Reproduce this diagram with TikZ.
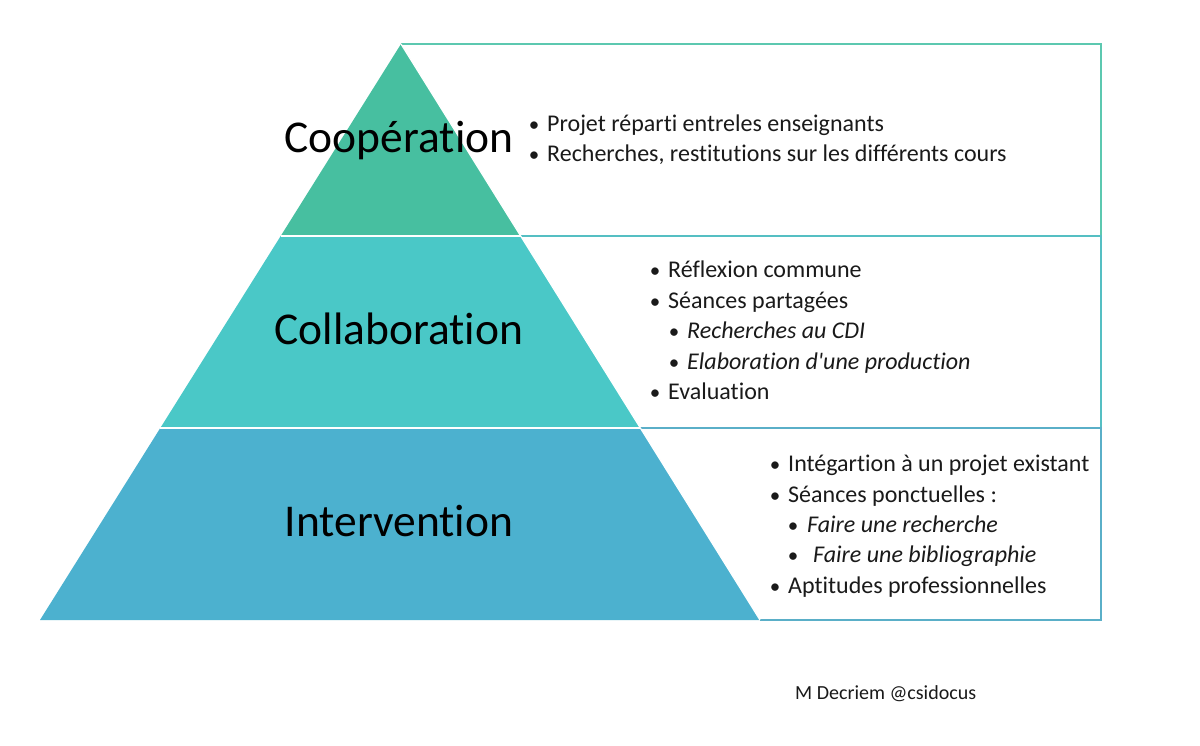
\documentclass[tikz,border=0pt]{standalone}
\usepackage{fontspec}
\setmainfont{Carlito}[Ligatures=NoCommon]
\newfontfamily\rawcarlito{Carlito}[Mapping=, Ligatures=NoCommon]
\definecolor{tierA}{HTML}{47BFA0}
\definecolor{tierB}{HTML}{4AC8C7}
\definecolor{tierC}{HTML}{4CB1CF}
\definecolor{lineA}{HTML}{5CC8B0}
\definecolor{lineB}{HTML}{55BFC3}
\definecolor{lineC}{HTML}{5AAFC8}
\definecolor{txt}{HTML}{1A1A1A}
\tikzset{
  biglabel/.style={font=\fontsize{45.5}{54}\selectfont, inner sep=0pt, anchor=base, text=black},
  itemtxt/.style={font=\fontsize{24}{28}\selectfont, inner sep=0pt, anchor=base west, text=txt},
  itemit/.style={itemtxt, font=\fontsize{24}{28}\selectfont\itshape},
  bulnode/.style={font=\fontsize{21}{25}\selectfont, inner sep=0pt, anchor=base, text=txt},
  boxline/.style={line width=1.6pt, line join=miter},
  sep/.style={draw=white, line width=2.2pt},
}
\begin{document}
\begin{tikzpicture}[x=1pt,y=-1pt]
\useasboundingbox (0,0) rectangle (1200,745);
\fill[white] (0,0) rectangle (1200,745);
% key points
\coordinate (A) at (401,44);
\coordinate (L1) at (280.7,236);
\coordinate (R1) at (520.7,236);
\coordinate (L2) at (160.3,428);
\coordinate (R2) at (640.3,428);
\coordinate (L3) at (40,620);
\coordinate (R3) at (760,620);
\coordinate (TA) at (1101,44);
\coordinate (TB) at (1101,236);
\coordinate (TC) at (1101,428);
\coordinate (TD) at (1101,620);
% boxes
\draw[boxline, lineA] (A) -- (TA) -- (TB) -- (R1);
\draw[boxline, lineB] (R1) -- (TB) -- (TC) -- (R2);
\draw[boxline, lineC] (R2) -- (TC) -- (TD) -- (R3);
% pyramid tiers
\fill[tierA] (A) -- (R1) -- (L1) -- cycle;
\fill[tierB] (L1) -- (R1) -- (R2) -- (L2) -- cycle;
\fill[tierC] (L2) -- (R2) -- (R3) -- (L3) -- cycle;
\draw[sep] (L1) -- (R1);
\draw[sep] (L2) -- (R2);
\draw[draw=white, line width=1.2pt] (A) -- (R3);
% big labels
\node[biglabel] (coop) at (399,152) {Coopération};
\node[biglabel] (colla) at (399,344) {Collaboration};
\node[biglabel] (inter) at (399,536) {Intervention};
% top box items
\node[bulnode] (b1) at (534,131) {•};
\node[itemtxt] (t1) at (547,131) {Projet réparti entreles enseignants};
\node[bulnode] (b2) at (534,161) {•};
\node[itemtxt] (t2) at (547,161) {Recherches, restitutions sur les différents cours};
% middle box items
\node[bulnode] (b3) at (655,277) {•};
\node[itemtxt] (t3) at (668,277) {Réflexion commune};
\node[bulnode] (b4) at (655,308) {•};
\node[itemtxt] (t4) at (668,308) {Séances partagées};
\node[bulnode] (b5) at (674,338) {•};
\node[itemit] (t5) at (687,338) {Recherches au CDI};
\node[bulnode] (b6) at (674,369) {•};
\node[itemit] (t6) at (687,369) {Elaboration d{\rawcarlito\itshape '}une production};
\node[bulnode] (b7) at (655,399) {•};
\node[itemtxt] (t7) at (668,399) {Evaluation};
% bottom box items
\node[bulnode] (b8) at (775,471) {•};
\node[itemtxt] (t8) at (788,471) {Intégartion à un projet existant};
\node[bulnode] (b9) at (775,502) {•};
\node[itemtxt] (t9) at (788,502) {Séances ponctuelles :};
\node[bulnode] (b10) at (793,532) {•};
\node[itemit] (t10) at (807,532) {Faire une recherche};
\node[bulnode] (b11) at (793,562) {•};
\node[itemit] (t11) at (813,562) {Faire une bibliographie};
\node[bulnode] (b12) at (775,593) {•};
\node[itemtxt] (t12) at (788,593) {Aptitudes professionnelles};
% footer
\node[inner sep=0pt, anchor=base west, font=\fontsize{20}{24}\selectfont, text=txt] (foot) at (795,699) {M Decriem @csidocus};
\end{tikzpicture}
\end{document}
